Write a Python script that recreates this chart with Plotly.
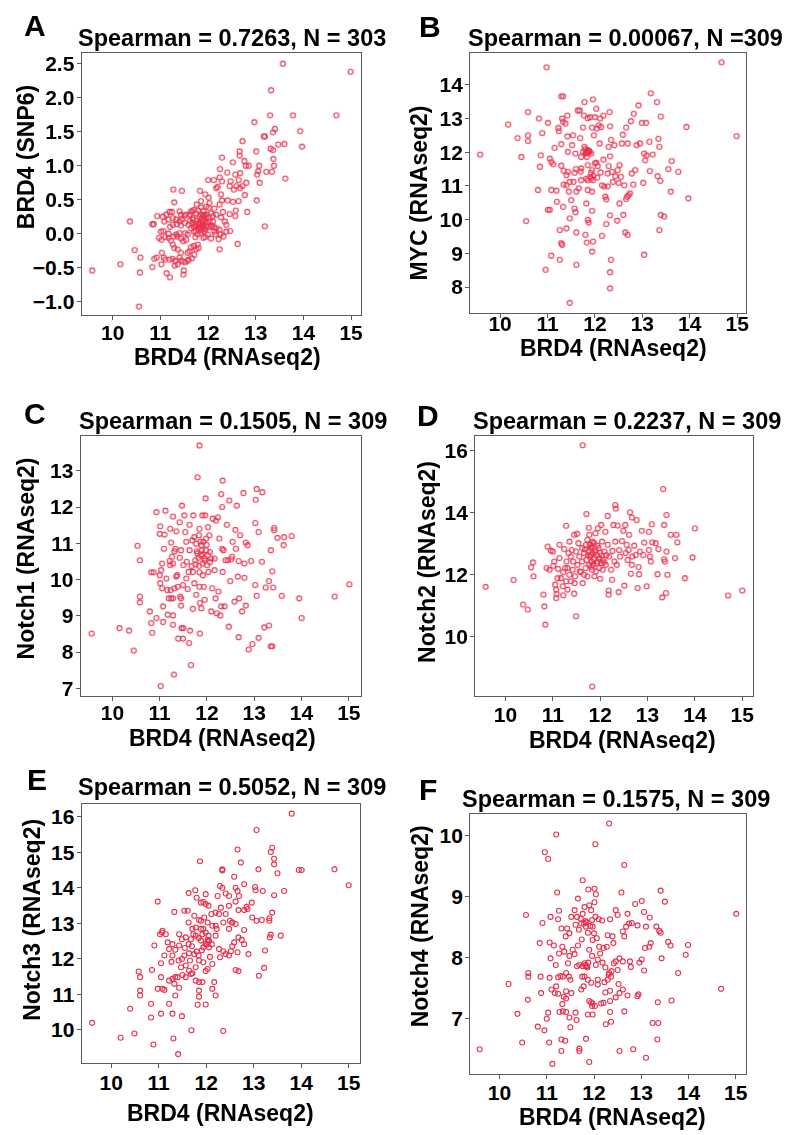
import plotly.graph_objects as go

# ---------------- data ----------------
A_POINTS = [
    (13.57, 2.50), (14.99, 2.38), (13.32, 2.11), (13.78, 1.74), (14.69, 1.74), (13.30, 1.74),
    (12.97, 1.64), (13.40, 1.54), (13.36, 1.49), (13.93, 1.51), (13.17, 1.43), (13.19, 1.43),
    (12.72, 1.36), (13.60, 1.32), (13.47, 1.31), (13.97, 1.28), (13.31, 1.25), (13.36, 1.23),
    (12.66, 1.21), (13.01, 1.21), (12.29, 1.12), (12.66, 1.15), (12.52, 1.05), (13.37, 1.10),
    (12.76, 1.07), (12.79, 1.00), (12.85, 1.00), (13.38, 1.00), (13.07, 1.00), (12.25, 0.95),
    (12.40, 0.90), (13.05, 0.92), (13.03, 0.87), (13.22, 0.91), (13.34, 0.91), (12.57, 0.87),
    (12.67, 0.89), (12.24, 0.83), (12.12, 0.79), (12.29, 0.77), (12.00, 0.79), (12.47, 0.77),
    (12.64, 0.79), (13.08, 0.75), (13.62, 0.81), (12.80, 0.75), (12.59, 0.70), (12.72, 0.70),
    (12.67, 0.67), (12.54, 0.65), (12.17, 0.67), (12.20, 0.69), (12.45, 0.70), (11.83, 0.63),
    (11.27, 0.65), (11.45, 0.63), (12.77, 0.57), (12.27, 0.58), (11.94, 0.58), (12.01, 0.53),
    (12.29, 0.49), (12.41, 0.49), (12.52, 0.47), (12.64, 0.48), (13.02, 0.49), (12.03, 0.45),
    (11.29, 0.46), (11.85, 0.48), (12.24, 0.43), (12.13, 0.37), (11.67, 0.33), (11.90, 0.33),
    (12.58, 0.34), (12.82, 0.32), (12.31, 0.32), (12.45, 0.29), (12.57, 0.26), (13.19, 0.11),
    (12.62, -0.15), (12.24, -0.23), (12.22, -0.08), (12.06, -0.07), (11.94, -0.05), (12.46, 0.04),
    (12.38, 0.13), (12.35, 0.18), (12.10, 0.18),
    (9.57, -0.54), (10.16, -0.45), (10.36, 0.18), (10.46, -0.24), (10.58, -0.35), (10.57, -0.57),
    (10.55, -1.07), (10.83, -0.49), (10.87, -0.37), (10.92, -0.35), (10.83, 0.14), (10.86, 0.14),
    (10.93, 0.26), (10.97, -0.06), (11.02, -0.09), (11.01, 0.03), (11.06, 0.04), (11.03, -0.28),
    (11.07, -0.35), (11.02, -0.45), (11.13, -0.58), (11.20, -0.64), (11.10, -0.38), (11.19, -0.38),
    (11.25, -0.37), (11.31, -0.40), (11.30, -0.47), (11.36, -0.45), (11.40, -0.35), (11.43, -0.39),
    (11.47, -0.41), (11.49, -0.54), (11.48, -0.60), (11.52, -0.42), (11.57, -0.40), (11.59, -0.38),
    (11.57, -0.28), (11.61, -0.26), (11.64, -0.20), (11.70, -0.18), (11.78, -0.16), (11.80, -0.21),
    (11.71, -0.31), (11.66, -0.36), (11.75, -0.23), (11.43, -0.28), (11.36, -0.23), (11.29, -0.21),
    (11.26, -0.16), (11.22, -0.10), (11.17, -0.06), (11.28, -0.04), (11.36, -0.04), (11.43, -0.07),
    (11.48, -0.11), (11.54, -0.09), (11.33, -0.01), (11.08, 0.18), (11.05, 0.25), (11.12, 0.28),
    (11.19, 0.32), (11.24, 0.32), (11.17, 0.21), (11.26, 0.23), (11.33, 0.21), (11.26, 0.13),
    (11.20, 0.10), (11.34, 0.14), (11.40, 0.18), (11.45, 0.21), (11.51, 0.16), (11.43, 0.12),
    (11.40, 0.33), (11.43, 0.28), (11.50, 0.26), (11.54, 0.28), (11.61, 0.28), (11.64, 0.33),
    (11.70, 0.35), (11.75, 0.30), (11.80, 0.34), (11.84, 0.28), (11.89, 0.26), (11.92, 0.28),
    (11.97, 0.28), (12.01, 0.24), (12.06, 0.30), (12.03, 0.18), (11.94, 0.17), (11.86, 0.22),
    (11.68, 0.23), (11.62, 0.19), (11.59, 0.13), (11.64, 0.08), (11.70, 0.03), (11.73, 0.13),
    (11.77, 0.11), (11.80, 0.16), (11.83, 0.13), (11.82, 0.08), (11.87, 0.09), (11.90, 0.13),
    (11.96, 0.12), (11.99, 0.09), (12.05, 0.10), (11.92, 0.03), (11.85, 0.01), (11.78, -0.01),
    (11.73, -0.05), (11.90, -0.06), (11.99, -0.01), (12.13, 0.03), (12.17, 0.08), (12.24, 0.06),
    (12.15, -0.01), (12.26, -0.01), (12.32, -0.04), (12.38, 0.03), (12.27, 0.24), (12.17, 0.28),
    (12.10, 0.26), (12.01, 0.38), (11.96, 0.40), (11.85, 0.39), (11.76, 0.43), (11.68, 0.21),
    (11.52, 0.01), (11.57, -0.01), (11.40, 0.01), (11.17, 0.00), (11.10, -0.05),
    (11.81, 0.15), (11.84, 0.11), (11.88, 0.18), (11.79, 0.06), (11.93, 0.07), (11.86, 0.05),
    (11.91, 0.20), (11.98, 0.16), (11.76, 0.19), (11.70, 0.10), (12.08, 0.12), (11.95, 0.24),
    (11.82, 0.25), (12.12, 0.10), (11.66, 0.15), (11.74, 0.04),
]

B_POINTS = [
    (14.67, 14.67), (14.99, 12.48), (9.58, 11.93), (10.17, 12.82), (10.37, 12.42), (10.45, 11.86),
    (10.55, 9.96), (10.59, 13.19), (10.59, 12.50), (10.59, 12.33), (10.82, 13.00), (10.80, 10.88),
    (10.84, 11.57), (10.86, 11.91), (10.89, 12.57), (10.96, 8.51), (10.98, 14.52), (11.01, 12.87),
    (11.01, 10.29), (11.05, 10.29), (11.08, 8.93), (11.08, 10.88), (11.05, 11.81), (11.08, 11.71),
    (11.12, 11.64), (11.15, 12.13), (11.19, 10.86), (11.20, 10.53), (11.23, 12.72), (11.24, 12.63),
    (11.26, 9.69), (11.26, 8.81), (11.29, 13.66), (11.33, 13.66), (11.29, 9.30), (11.31, 9.25),
    (11.29, 12.24), (11.31, 13.00), (11.33, 12.90), (11.34, 11.45), (11.33, 10.38), (11.29, 11.60),
    (11.34, 11.04), (11.40, 11.02), (11.38, 12.85), (11.40, 11.32), (11.40, 9.74), (11.42, 13.09),
    (11.42, 12.47), (11.43, 11.42), (11.43, 12.01), (11.45, 10.83), (11.47, 11.12), (11.47, 10.04),
    (11.47, 7.53), (11.50, 10.58), (11.54, 12.50), (11.52, 12.21), (11.55, 11.12), (11.57, 11.39),
    (11.57, 10.33), (11.59, 10.22), (11.61, 8.66), (11.61, 9.62), (11.61, 10.83), (11.59, 11.96),
    (11.64, 13.24), (11.66, 10.93), (11.68, 13.24), (11.69, 12.42), (11.71, 11.86), (11.71, 11.52),
    (11.71, 11.17), (11.75, 12.73), (11.75, 12.01), (11.77, 13.09), (11.78, 13.49), (11.78, 12.16),
    (11.80, 12.09), (11.80, 11.96), (11.82, 12.01), (11.85, 12.06), (11.83, 11.86), (11.85, 11.62),
    (11.82, 11.22), (11.85, 11.17), (11.85, 10.88), (11.82, 10.48), (11.80, 9.55), (11.83, 9.32),
    (11.85, 9.99), (11.87, 9.91), (11.85, 13.01), (11.89, 12.01), (11.90, 13.04), (11.92, 11.96),
    (11.94, 12.73), (11.92, 11.39), (11.92, 11.22), (11.94, 11.47), (11.96, 11.17), (11.94, 10.83),
    (11.94, 9.05), (11.96, 13.57), (11.96, 9.35), (11.94, 10.26), (11.98, 12.50), (12.00, 13.04),
    (12.00, 11.67), (12.03, 13.29), (12.03, 11.69), (12.04, 12.70), (12.06, 11.59), (12.08, 12.80),
    (12.10, 12.26), (12.11, 13.00), (12.13, 12.75), (12.15, 11.02), (12.15, 9.52), (12.18, 13.09),
    (12.18, 11.78), (12.20, 10.98), (12.22, 10.68), (12.24, 10.60), (12.24, 9.87), (12.27, 11.37),
    (12.27, 10.99), (12.29, 11.59), (12.29, 12.16), (12.31, 13.19), (12.32, 12.77), (12.32, 11.88),
    (12.32, 10.13), (12.32, 8.44), (12.32, 7.96), (12.34, 8.81), (12.34, 12.37), (12.36, 11.42),
    (12.38, 11.12), (12.41, 12.21), (12.43, 11.29), (12.48, 11.47), (12.47, 9.97), (12.50, 11.09),
    (12.52, 11.62), (12.52, 10.48), (12.55, 11.27), (12.57, 12.26), (12.60, 10.14), (12.59, 12.52),
    (12.62, 11.02), (12.64, 9.62), (12.66, 10.61), (12.68, 10.68), (12.69, 9.55), (12.66, 12.73),
    (12.69, 12.26), (12.71, 10.73), (12.74, 10.78), (12.76, 12.92), (12.78, 11.37), (12.81, 11.04),
    (12.82, 13.14), (12.85, 11.47), (12.88, 12.21), (12.92, 13.39), (12.95, 12.26), (12.99, 12.87),
    (13.02, 11.09), (13.04, 8.96), (13.04, 11.96), (13.06, 11.76), (13.08, 12.87), (13.09, 11.91),
    (13.18, 13.75), (13.16, 11.44), (13.15, 12.31), (13.22, 11.93), (13.31, 13.49), (13.32, 11.29),
    (13.34, 12.40), (13.36, 12.16), (13.36, 9.69), (13.38, 11.15), (13.39, 13.06), (13.39, 10.14),
    (13.46, 10.09), (13.55, 11.50), (13.60, 10.83), (13.62, 11.74), (13.76, 11.42), (13.93, 12.75),
    (13.97, 10.63), (11.83, 12.02), (11.86, 11.98), (11.88, 12.04), (11.81, 11.99), (11.90, 11.27),
    (11.97, 11.30), (12.05, 11.25), (11.70, 11.43), (11.60, 11.50), (12.12, 11.40),
]

C_POINTS = [
    (11.84, 13.70), (9.56, 8.51), (10.15, 8.66), (10.35, 8.59), (10.45, 8.04), (10.53, 10.93),
    (10.58, 10.53), (10.58, 9.53), (10.58, 9.37), (10.82, 10.20), (10.87, 10.20), (10.79, 9.12),
    (10.82, 8.80), (10.84, 8.53), (10.93, 8.94), (10.93, 11.86), (11.00, 11.26), (11.01, 11.47),
    (11.02, 7.06), (11.00, 10.12), (11.01, 9.90), (11.03, 10.26), (11.05, 10.44), (11.05, 9.76),
    (11.07, 9.26), (11.07, 8.83), (11.09, 10.85), (11.10, 11.24), (11.12, 11.90), (11.14, 10.03),
    (11.16, 9.71), (11.17, 9.03), (11.19, 9.48), (11.21, 10.51), (11.22, 11.40), (11.24, 11.02),
    (11.22, 10.40), (11.23, 9.71), (11.24, 9.48), (11.26, 10.63), (11.28, 11.74), (11.28, 10.44),
    (11.28, 9.48), (11.28, 9.01), (11.28, 8.75), (11.30, 7.38), (11.31, 9.76), (11.31, 10.78),
    (11.33, 10.85), (11.35, 11.33), (11.35, 10.08), (11.37, 10.12), (11.38, 9.80), (11.39, 8.37),
    (11.42, 10.60), (11.42, 11.58), (11.43, 9.53), (11.45, 9.48), (11.45, 10.81), (11.45, 9.28),
    (11.46, 8.66), (11.47, 12.04), (11.49, 8.37), (11.49, 9.85), (11.50, 8.66), (11.50, 10.40),
    (11.52, 11.77), (11.54, 11.31), (11.56, 11.04), (11.56, 10.03), (11.57, 10.49), (11.59, 9.74),
    (11.61, 10.21), (11.62, 8.25), (11.63, 11.51), (11.63, 10.81), (11.64, 8.59), (11.66, 7.64),
    (11.67, 10.37), (11.69, 11.08), (11.70, 9.19), (11.70, 10.21), (11.71, 11.77), (11.73, 11.17),
    (11.73, 9.90), (11.75, 10.53), (11.77, 10.99), (11.77, 9.58), (11.78, 10.78), (11.80, 10.72),
    (11.80, 12.82), (11.83, 10.38), (11.83, 11.22), (11.84, 11.40), (11.84, 10.20), (11.84, 9.80),
    (11.85, 9.35), (11.85, 8.51), (11.88, 9.21), (11.88, 10.95), (11.89, 10.81), (11.90, 11.77),
    (11.91, 10.44), (11.91, 10.12), (11.92, 11.04), (11.93, 9.80), (11.95, 9.44), (11.95, 10.58),
    (11.96, 11.77), (11.97, 12.24), (11.98, 11.13), (11.98, 10.81), (12.00, 10.40), (12.02, 10.67),
    (12.02, 11.45), (12.03, 10.21), (12.05, 11.22), (12.06, 10.76), (12.09, 9.12), (12.11, 9.76),
    (12.12, 11.68), (12.16, 10.58), (12.16, 10.26), (12.18, 9.48), (12.19, 11.63), (12.21, 9.07),
    (12.23, 11.72), (12.24, 9.67), (12.26, 11.13), (12.28, 9.01), (12.30, 12.36), (12.30, 9.26),
    (12.32, 10.85), (12.32, 12.00), (12.33, 12.73), (12.33, 10.21), (12.35, 10.81), (12.37, 9.26),
    (12.39, 10.53), (12.42, 11.51), (12.44, 10.53), (12.46, 8.70), (12.47, 12.18), (12.49, 9.96),
    (12.51, 10.56), (12.53, 10.63), (12.54, 11.04), (12.58, 9.39), (12.60, 11.37), (12.61, 10.85),
    (12.63, 12.04), (12.65, 10.08), (12.67, 10.51), (12.68, 9.48), (12.67, 8.41), (12.70, 11.22),
    (12.74, 9.12), (12.77, 12.39), (12.79, 10.44), (12.79, 10.05), (12.82, 11.02), (12.86, 10.95),
    (12.82, 9.28), (12.88, 8.07), (12.93, 10.51), (12.96, 8.22), (13.02, 11.56), (13.03, 12.20),
    (13.05, 12.50), (13.02, 9.85), (13.05, 9.55), (13.09, 11.31), (13.09, 8.39), (13.17, 12.41),
    (13.16, 10.49), (13.21, 8.68), (13.24, 9.78), (13.31, 8.73), (13.31, 9.96), (13.35, 10.81),
    (13.35, 8.16), (13.38, 8.16), (13.38, 10.23), (13.40, 9.78), (13.42, 11.42), (13.42, 11.36),
    (13.49, 11.15), (13.58, 9.55), (13.63, 11.17), (13.62, 10.95), (13.79, 11.20), (13.95, 9.48),
    (14.00, 8.94), (14.70, 9.53), (15.01, 9.87), (11.87, 10.66), (11.90, 10.70), (11.82, 10.60),
    (11.95, 10.52), (12.06, 10.48), (11.76, 10.42), (11.86, 11.05), (11.99, 10.96), (12.09, 10.58),
]

D_POINTS = [
    (11.63, 16.16), (11.83, 8.37), (9.58, 11.59), (10.17, 11.81), (10.37, 11.02), (10.47, 10.86),
    (10.54, 12.22), (10.58, 12.38), (10.59, 11.93), (10.80, 11.34), (10.82, 10.96), (10.84, 10.37),
    (10.87, 12.20), (10.89, 12.89), (10.93, 12.14), (10.96, 12.76), (11.00, 12.73), (11.01, 12.27),
    (11.03, 12.41), (11.05, 11.66), (11.07, 11.50), (11.07, 11.23), (11.08, 11.36), (11.10, 11.87),
    (11.11, 12.17), (11.14, 12.52), (11.14, 12.95), (11.17, 11.87), (11.21, 11.61), (11.22, 12.07),
    (11.22, 11.32), (11.24, 12.81), (11.26, 12.20), (11.28, 13.56), (11.28, 11.77), (11.29, 12.41),
    (11.31, 11.50), (11.31, 12.20), (11.33, 12.68), (11.35, 13.05), (11.35, 11.98), (11.38, 11.77),
    (11.38, 12.57), (11.40, 12.78), (11.42, 12.14), (11.43, 12.41), (11.45, 13.27), (11.45, 11.37),
    (11.46, 11.71), (11.47, 11.93), (11.49, 10.64), (11.49, 12.73), (11.51, 13.30), (11.52, 12.30),
    (11.54, 13.00), (11.56, 12.57), (11.57, 12.09), (11.59, 12.07), (11.62, 12.84), (11.62, 12.41),
    (11.63, 11.71), (11.66, 11.98), (11.66, 12.68), (11.69, 12.20), (11.70, 12.95), (11.71, 13.94),
    (11.71, 12.46), (11.73, 13.11), (11.73, 11.93), (11.76, 12.75), (11.76, 13.50), (11.77, 12.30),
    (11.77, 13.27), (11.78, 12.57), (11.79, 12.95), (11.80, 12.84), (11.82, 12.41), (11.83, 12.14),
    (11.84, 12.68), (11.84, 13.05), (11.85, 12.30), (11.88, 12.52), (11.88, 11.93), (11.89, 12.78),
    (11.90, 13.32), (11.91, 12.09), (11.92, 12.62), (11.95, 12.41), (11.95, 13.48), (11.97, 12.84),
    (11.98, 12.20), (12.00, 12.68), (12.00, 11.85), (12.02, 13.59), (12.02, 12.36), (12.04, 13.05),
    (12.05, 12.14), (12.06, 12.46), (12.09, 12.73), (12.11, 13.37), (12.12, 12.30), (12.16, 13.88),
    (12.16, 12.95), (12.18, 11.47), (12.18, 11.34), (12.19, 12.57), (12.23, 12.14), (12.25, 11.82),
    (12.26, 12.75), (12.28, 13.59), (12.30, 12.41), (12.32, 13.05), (12.32, 14.23), (12.33, 14.12),
    (12.35, 12.30), (12.37, 13.57), (12.39, 11.42), (12.40, 12.78), (12.42, 12.57), (12.46, 13.07),
    (12.49, 13.40), (12.51, 11.63), (12.53, 13.59), (12.54, 12.68), (12.56, 12.95), (12.58, 12.46),
    (12.60, 12.78), (12.61, 13.27), (12.63, 14.00), (12.65, 12.01), (12.67, 13.83), (12.67, 12.30),
    (12.68, 12.57), (12.72, 12.92), (12.75, 12.62), (12.77, 13.75), (12.79, 11.55), (12.81, 12.23),
    (12.82, 12.00), (12.84, 12.73), (12.88, 13.40), (12.91, 12.62), (12.93, 13.02), (12.98, 11.61),
    (13.03, 13.37), (13.03, 12.78), (13.05, 12.57), (13.07, 12.41), (13.09, 13.61), (13.10, 13.03),
    (13.17, 13.00), (13.21, 12.00), (13.23, 12.81), (13.31, 11.25), (13.33, 14.75), (13.35, 13.59),
    (13.35, 12.48), (13.37, 12.41), (13.39, 11.39), (13.40, 13.91), (13.40, 12.73), (13.42, 11.98),
    (13.49, 13.27), (13.58, 12.52), (13.61, 13.27), (13.63, 13.03), (13.79, 11.87), (13.95, 12.54),
    (14.00, 13.48), (14.70, 11.31), (15.00, 11.47), (11.80, 12.62), (11.83, 12.90), (11.86, 12.48),
    (11.90, 12.72), (11.78, 12.98), (11.93, 12.35), (11.81, 12.24), (11.87, 13.00), (12.03, 12.60),
    (11.94, 12.92), (11.74, 12.62), (12.08, 12.38), (11.99, 12.50), (12.13, 12.62), (11.68, 12.80),
]

E_POINTS = [
    (13.80, 16.09), (13.06, 15.63), (15.00, 14.07), (14.70, 14.52), (13.95, 14.50), (14.01, 14.50),
    (13.39, 15.13), (13.36, 15.01), (13.43, 14.82), (13.43, 14.66), (13.50, 14.41), (13.10, 14.52),
    (12.66, 15.08), (12.73, 14.71), (12.34, 14.52), (12.34, 14.49), (11.87, 14.75), (12.59, 14.31),
    (12.80, 14.10), (12.29, 14.05), (12.34, 14.00), (12.62, 14.00), (13.03, 14.02), (13.04, 13.93),
    (13.19, 13.91), (13.64, 13.91), (13.43, 13.79), (12.66, 13.91), (12.41, 13.84), (12.48, 13.77),
    (12.69, 13.77), (12.24, 13.77), (11.99, 13.82), (11.77, 13.93), (11.63, 13.85), (11.80, 13.72),
    (11.94, 13.60), (11.89, 13.58), (11.99, 13.54), (12.05, 13.49), (10.98, 13.61), (12.62, 13.61),
    (12.96, 13.58), (12.85, 13.46), (12.87, 13.40), (12.80, 13.37), (12.48, 13.49), (12.20, 13.30),
    (12.31, 13.44), (12.11, 13.26), (11.75, 13.21), (12.97, 13.16), (13.06, 13.07), (13.33, 13.14),
    (13.17, 13.09), (13.33, 13.07), (12.50, 13.07), (12.55, 13.02), (12.62, 12.98), (12.68, 13.37),
    (12.20, 12.93), (12.03, 13.02), (11.85, 13.09), (11.96, 13.16), (11.33, 13.32), (11.54, 13.35),
    (11.61, 13.35), (11.63, 13.02), (11.71, 12.84), (11.78, 12.88), (11.89, 12.84), (11.92, 12.69),
    (11.99, 12.74), (12.05, 12.65), (12.03, 12.53), (12.06, 12.51), (11.99, 12.41), (11.94, 12.32),
    (11.89, 12.51), (11.84, 12.58), (11.78, 12.65), (11.73, 12.69), (11.68, 12.55), (11.63, 12.41),
    (11.57, 12.60), (11.49, 12.55), (11.43, 12.69), (11.43, 12.37), (11.35, 12.25), (11.29, 12.41),
    (11.29, 12.09), (11.22, 12.27), (11.19, 12.46), (11.27, 11.91), (11.15, 12.69), (11.08, 12.79),
    (11.07, 12.74), (11.03, 12.69), (10.91, 12.37), (11.05, 11.87), (11.12, 12.09), (11.05, 11.48),
    (10.98, 11.15), (11.08, 11.15), (11.12, 11.12), (10.86, 11.68), (10.58, 11.64), (10.61, 11.48),
    (10.61, 11.10), (10.61, 10.96), (10.40, 10.59), (10.84, 10.73), (11.05, 10.45), (10.84, 10.34),
    (11.22, 10.73), (11.29, 10.45), (11.49, 10.38), (10.89, 9.58), (11.31, 9.75), (11.41, 9.31),
    (11.69, 9.98), (12.36, 9.96), (10.49, 9.89), (10.20, 9.77), (9.60, 10.19), (11.82, 10.70),
    (11.99, 10.71), (11.35, 10.96), (11.33, 11.29), (11.43, 11.18), (11.29, 11.43), (11.35, 11.48),
    (11.22, 11.38), (11.40, 11.48), (11.57, 11.48), (11.50, 11.54), (11.64, 11.66), (11.68, 11.57),
    (11.71, 11.59), (11.78, 11.38), (11.85, 11.34), (11.92, 11.34), (11.85, 11.10), (11.85, 10.93),
    (12.13, 11.15), (12.20, 10.96), (12.17, 11.34), (12.03, 11.71), (11.99, 11.65), (12.13, 11.85),
    (11.78, 11.76), (11.57, 11.81), (11.47, 11.76), (11.42, 11.95), (11.54, 12.09), (11.49, 11.99),
    (11.64, 12.15), (11.75, 12.13), (11.84, 12.09), (11.85, 11.95), (11.94, 11.90), (12.06, 12.32),
    (12.12, 12.41), (12.20, 12.65), (12.27, 12.27), (12.29, 12.04), (12.36, 12.21), (12.41, 12.13),
    (12.48, 12.09), (12.52, 12.21), (12.55, 12.35), (12.59, 12.46), (12.68, 12.60), (12.75, 12.53),
    (12.66, 12.18), (12.80, 12.41), (12.80, 12.81), (12.89, 12.13), (12.62, 11.68), (12.68, 11.65),
    (13.11, 11.52), (13.22, 11.74), (13.24, 12.23), (13.34, 12.60), (13.36, 12.68), (13.57, 12.65),
    (13.39, 13.30), (12.27, 13.26), (12.41, 13.26), (12.55, 13.02), (12.36, 13.02), (12.13, 12.93),
    (12.22, 12.84), (12.48, 12.84), (11.89, 13.07), (11.94, 12.84), (12.04, 12.47), (12.02, 12.40),
    (11.70, 12.35), (11.80, 12.20), (11.91, 12.24), (11.66, 11.95), (11.55, 12.30), (12.08, 12.05),
]

F_POINTS = [
    (12.32, 10.20), (11.20, 10.02), (12.03, 9.86), (10.96, 9.73), (11.03, 9.62), (12.64, 9.52),
    (11.76, 9.27), (11.22, 9.07), (11.88, 9.12), (12.01, 9.13), (12.04, 9.04), (12.58, 9.07),
    (13.41, 9.10), (13.50, 8.92), (13.01, 8.93), (15.01, 8.72), (10.56, 8.70), (11.08, 8.67),
    (11.26, 8.77), (11.24, 8.63), (10.91, 8.57), (10.85, 8.24), (11.06, 8.25), (11.15, 8.20),
    (11.08, 7.99), (11.19, 7.88), (11.26, 8.07), (11.33, 8.18), (11.37, 8.10), (11.31, 8.48),
    (11.40, 8.35), (11.43, 8.48), (11.48, 8.40), (11.52, 8.67), (11.61, 8.54), (11.59, 8.78),
    (11.66, 8.97), (11.64, 8.67), (11.68, 8.46), (11.72, 8.64), (11.73, 8.56), (11.76, 8.72),
    (11.80, 8.83), (11.82, 8.60), (11.83, 8.51), (11.87, 8.41), (11.90, 8.86), (11.94, 8.78),
    (11.96, 8.62), (11.97, 8.51), (12.01, 8.91), (12.03, 8.67), (12.10, 8.63), (12.17, 8.61),
    (11.97, 8.29), (12.06, 8.32), (12.11, 8.18), (12.20, 8.16), (12.27, 8.18), (12.29, 8.37),
    (12.34, 8.63), (12.39, 8.35), (12.41, 8.24), (12.46, 8.78), (12.50, 8.70), (12.61, 8.43),
    (12.64, 8.35), (12.68, 8.51), (12.71, 8.72), (12.74, 8.56), (12.80, 8.57), (12.87, 8.88),
    (12.92, 8.53), (13.10, 8.51), (13.18, 8.66), (13.06, 8.75), (13.32, 8.51), (13.38, 8.44),
    (13.41, 8.41), (13.20, 8.24), (13.17, 8.18), (13.08, 8.16), (13.43, 7.99), (13.57, 8.26),
    (13.62, 8.20), (13.99, 8.21), (13.94, 8.05), (13.78, 7.75), (13.06, 7.79), (13.01, 7.97),
    (12.96, 7.92), (12.78, 7.85), (12.76, 7.94), (12.61, 7.94), (12.54, 7.99), (12.46, 7.94),
    (12.50, 7.80), (12.42, 7.91), (12.32, 7.75), (12.36, 7.69), (12.29, 7.64), (12.34, 7.46),
    (12.24, 7.84), (12.18, 7.92), (12.13, 8.07), (12.08, 7.97), (12.04, 7.88), (11.96, 8.03),
    (11.90, 8.13), (11.85, 7.86), (11.80, 7.91), (11.76, 7.86), (11.69, 7.88), (11.64, 7.86),
    (11.59, 8.06), (11.55, 8.13), (11.48, 8.03), (11.45, 7.91), (11.41, 7.75), (11.34, 7.69),
    (11.29, 7.70), (11.24, 7.68), (11.20, 7.53), (11.06, 7.67), (11.10, 7.48), (11.17, 7.42),
    (11.24, 7.41), (10.87, 7.69), (10.88, 7.42), (10.61, 7.75), (10.61, 7.69), (10.19, 7.57),
    (10.60, 7.31), (10.38, 7.08), (11.47, 7.69), (11.50, 7.64), (11.41, 7.45), (11.52, 7.42),
    (11.36, 7.36), (11.33, 7.24), (11.41, 7.11), (11.34, 7.12), (11.27, 7.11), (11.48, 7.02),
    (11.61, 7.10), (11.63, 6.98), (11.50, 6.86), (11.73, 7.48), (11.78, 7.53), (11.75, 7.69),
    (11.80, 7.69), (11.83, 7.86), (11.87, 7.64), (11.94, 7.59), (11.90, 7.29), (11.94, 7.27),
    (11.97, 7.25), (11.96, 7.21), (12.02, 7.21), (12.08, 7.64), (12.08, 7.56), (12.15, 7.25),
    (12.20, 7.26), (12.25, 6.91), (12.36, 6.95), (12.34, 7.11), (12.24, 7.43), (12.34, 7.29),
    (12.46, 7.35), (12.54, 7.42), (12.52, 7.57), (12.61, 7.48), (12.64, 7.12), (12.71, 7.38),
    (12.92, 7.37), (12.94, 7.40), (13.24, 6.93), (13.36, 6.93), (13.34, 6.66), (13.35, 7.27),
    (13.64, 7.30), (14.69, 7.49), (13.10, 6.36), (12.83, 6.50), (12.54, 6.47), (11.90, 6.29),
    (11.69, 6.51), (11.69, 6.47), (11.83, 6.67), (11.31, 6.47), (11.31, 6.66), (11.39, 6.64),
    (11.12, 6.26), (11.05, 6.61), (10.95, 6.81), (10.81, 6.87), (11.03, 7.10), (11.00, 7.00),
    (10.48, 6.61), (9.58, 6.50), (11.97, 7.07), (11.87, 7.07), (11.41, 7.33),
    (11.82, 7.88), (11.86, 7.84), (11.88, 7.92), (11.79, 8.56), (11.84, 8.58), (11.92, 8.52),
    (12.31, 7.72), (12.37, 7.78), (11.74, 8.30), (11.66, 8.20), (12.00, 8.40), (12.22, 7.60),
]

X_TITLE = "BRD4 (RNAseq2)"
PANELS = [
    # letter, title, y-axis title, points, x range, y range, y tick step, y tick format
    ("A", "Spearman = 0.7263, N = 303", "BRD4 (SNP6)", A_POINTS, [9.35, 15.2], [-1.19, 2.66], 0.5, ".1f"),
    ("B", "Spearman = 0.00067, N =309", "MYC (RNAseq2)", B_POINTS, [9.37, 15.19], [7.24, 14.95], 1, "d"),
    ("C", "Spearman = 0.1505, N = 309", "Notch1 (RNAseq2)", C_POINTS, [9.33, 15.25], [6.79, 13.96], 1, "d"),
    ("D", "Spearman = 0.2237, N = 309", "Notch2 (RNAseq2)", D_POINTS, [9.36, 15.23], [8.07, 16.46], 2, "d"),
    ("E", "Spearman = 0.5052, N = 309", "Notch3 (RNAseq2)", E_POINTS, [9.38, 15.23], [9.05, 16.35], 1, "d"),
    ("F", "Spearman = 0.1575, N = 309", "Notch4 (RNAseq2)", F_POINTS, [9.38, 15.22], [6.09, 10.35], 1, "d"),
]

# ---------------- layout geometry (pixels of the 791 x 1135 page) ----------------
W, H = 791, 1135
BOXES = [  # left, right, top, bottom of each plot frame
    (82, 362, 52, 315), (472, 749, 52, 313),
    (81, 362, 437, 698), (477, 756, 437, 698),
    (82, 361, 807, 1067), (472, 749, 817, 1078),
]
X_STANDOFF = [-5, -12, -6, -4, -4, -5]   # pull x tick labels toward the frame
LETTER_POS = [(35, 25), (432, 26), (35, 414), (430, 416), (37, 782), (430, 792)]
TITLE_POS = [(233, 37), (628, 37), (234, 422), (629, 422), (233, 789), (618, 802)]
YTITLE_POS = [(26, 157), (421, 193), (26, 560), (428, 563), (32, 923), (422, 929)]
XTITLE_POS = [(228, 358), (616, 349), (223, 740), (625, 742), (221, 1117), (615, 1121)]

FONT = "Liberation Sans, Arial, sans-serif"
RED = "rgb(228,28,58)"
FRAME = "#5a5a5a"

def px(x):
    return x / W

def py(y):
    return 1 - y / H

fig = go.Figure()
annotations = []
for i, (letter, title, ytitle, pts, xr, yr, ystep, yfmt) in enumerate(PANELS):
    n = "" if i == 0 else str(i + 1)
    xs = [p[0] for p in pts]
    ys = [p[1] for p in pts]
    fig.add_trace(go.Scatter(
        x=xs, y=ys, mode="markers", xaxis="x" + n, yaxis="y" + n,
        marker=dict(symbol="circle-open", size=5, color=RED, line=dict(width=1.1, color=RED)),
        opacity=0.9, showlegend=False, hoverinfo="skip",
    ))
    l, r, t, b = BOXES[i]
    common = dict(showgrid=False, zeroline=False, showline=True, mirror=True,
                  linecolor=FRAME, linewidth=1.3, ticks="outside", ticklen=4,
                  tickcolor=FRAME, tickwidth=1,
                  tickfont=dict(family=FONT, size=21, color="black", weight="bold"))
    fig.update_layout(**{
        "xaxis" + n: dict(domain=[px(l), px(r)], range=xr, anchor="y" + n,
                          tickmode="linear", tick0=10, dtick=1,
                          ticklabelstandoff=X_STANDOFF[i], **common),
        "yaxis" + n: dict(domain=[py(b), py(t)], range=yr, anchor="x" + n,
                          tickmode="linear", tick0=0, dtick=ystep, tickformat=yfmt,
                          ticklabelstandoff=-2, **common),
    })
    lx, ly = LETTER_POS[i]
    annotations.append(dict(text="<b>%s</b>" % letter, x=px(lx), y=py(ly), xref="paper", yref="paper",
                            showarrow=False, font=dict(family=FONT, size=30, color="black"),
                            xanchor="center", yanchor="middle"))
    tx, ty = TITLE_POS[i]
    annotations.append(dict(text="<b>%s</b>" % title, x=px(tx), y=py(ty), xref="paper", yref="paper",
                            showarrow=False, font=dict(family=FONT, size=23.5, color="black"),
                            xanchor="center", yanchor="middle"))
    yx, yy = YTITLE_POS[i]
    annotations.append(dict(text="<b>%s</b>" % ytitle, x=px(yx), y=py(yy), xref="paper", yref="paper",
                            showarrow=False, textangle=-90, font=dict(family=FONT, size=23, color="black"),
                            xanchor="center", yanchor="middle"))
    xx, xy = XTITLE_POS[i]
    annotations.append(dict(text="<b>%s</b>" % X_TITLE, x=px(xx), y=py(xy), xref="paper", yref="paper",
                            showarrow=False, font=dict(family=FONT, size=23, color="black"),
                            xanchor="center", yanchor="middle"))

fig.update_layout(
    width=W, height=H, margin=dict(l=0, r=0, t=0, b=0),
    paper_bgcolor="white", plot_bgcolor="white",
    annotations=annotations, showlegend=False,
)

# remove the browser's default 8px page margin so the figure fills the window exactly
fig.write_html("out.html", config={"displayModeBar": False},
               post_script="document.body.style.margin='0';document.body.style.overflow='hidden';")
